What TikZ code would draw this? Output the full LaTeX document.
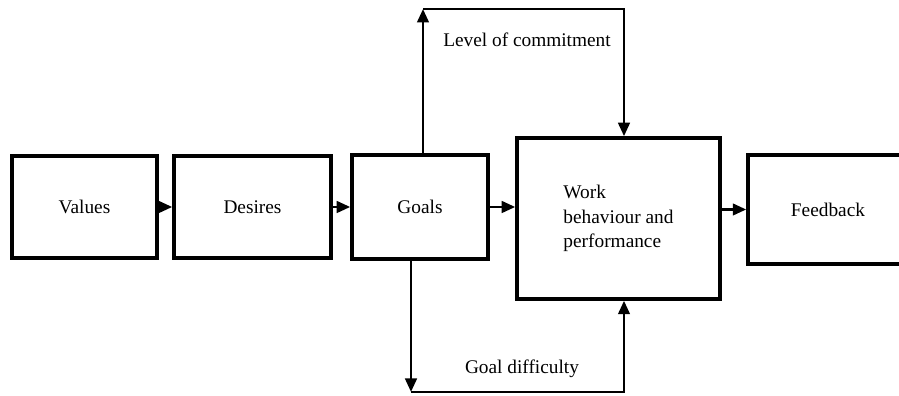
\documentclass[tikz,border=0pt]{standalone}
\usepackage{fontspec}
\setmainfont{Liberation Serif}
\usetikzlibrary{arrows.meta, positioning, calc}

\begin{document}
\begin{tikzpicture}[
  box/.style={draw, line width=2pt, minimum height=2.04cm, align=center, font=\fontsize{11}{13.8}\selectfont},
  arrow/.style={-{Triangle[length=0.27cm, width=0.23cm]}, line width=1.6pt},
  lbl/.style={font=\fontsize{11}{13.8}\selectfont}
]
\useasboundingbox (0,0) rectangle (17.98,7.92);

% Main chain
\node[box, minimum width=2.9cm] (values) at (1.69, 3.78) {Values};
\node[box, minimum width=3.14cm] (desires) at (5.05, 3.78) {Desires};
\node[box, minimum width=2.72cm, minimum height=2.08cm] (goals) at (8.4, 3.78) {Goals};
\node[box, minimum width=4.06cm, minimum height=3.22cm, align=left] (work) at (12.37, 3.55) {Work\\behaviour and\\performance};
\node[box, minimum width=3.2cm, minimum height=2.18cm] (feedback) at (16.56, 3.73) {Feedback};

\draw[arrow] (values) -- (desires);
\draw[arrow] (desires) -- (goals);
\draw[arrow] (goals.east) -- (goals.east -| work.west);
\draw[arrow] (work.east |- feedback) -- (feedback.west);

% Commitment loop
\coordinate (topL) at (8.46, 7.74);
\coordinate (topR) at (12.48, 7.74);
\draw[arrow] (goals.north -| topL) -- (topL);
\draw[arrow] (topL) -- (topR) -- (topR |- work.north);
\node[lbl] (commit) at (10.54, 7.12) {Level of commitment};

% Difficulty loop
\coordinate (botL) at (8.22, 0.08);
\coordinate (botR) at (12.48, 0.08);
\draw[arrow] (goals.south -| botL) -- (botL);
\draw[arrow] (botL) -- (botR) -- (botR |- work.south);
\node[lbl] (diff) at (10.44, 0.54) {Goal difficulty};
\end{tikzpicture}
\end{document}
